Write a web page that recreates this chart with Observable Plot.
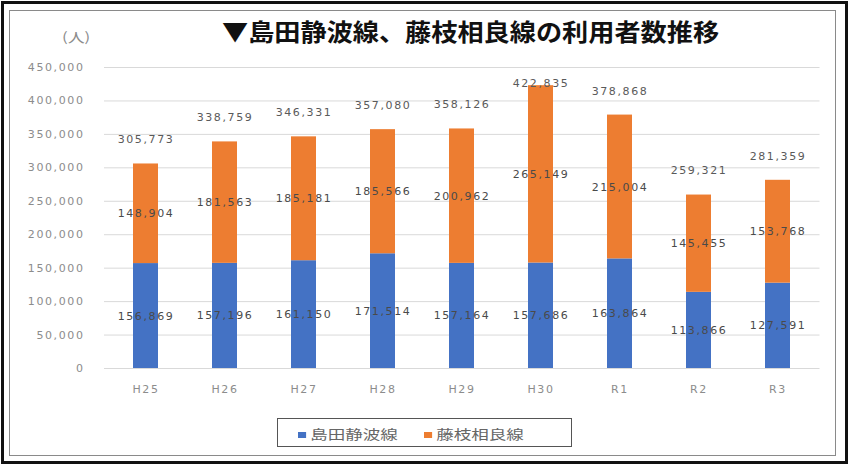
<!DOCTYPE html>
<html>
<head>
<meta charset="utf-8">
<script src="https://cdn.jsdelivr.net/npm/d3@7"></script>
<script src="https://cdn.jsdelivr.net/npm/@observablehq/plot@0.6"></script>
<style>
  body { margin: 0; background: #fff; }
  #page { position: relative; width: 848px; height: 464px; overflow: hidden; background: #fff; font-family: "Noto Sans CJK JP", sans-serif; }
  #outer { position: absolute; left: 1px; top: 1px; width: 841px; height: 457px; border: 3px solid #111; }
  #inner { position: absolute; left: 9px; top: 10px; width: 825px; height: 444px; border: 1.5px solid #8a8a8a; }
  #title { position: absolute; left: 222px; top: 13px; font-size: 24px; font-weight: 700; color: #111; white-space: nowrap; transform: scaleX(1.09); transform-origin: left top; }
  #unit { position: absolute; left: 62px; top: 27px; font-size: 13px; color: #8c8c8c; transform: scaleX(1.3); transform-origin: left top; }
  #chart { position: absolute; left: 0; top: 0; }
  #chart svg text { letter-spacing: 1.6px; }
  #legend { position: absolute; left: 277px; top: 418px; width: 295px; height: 29px; border: 1.5px solid #555; box-sizing: border-box; }
  .item { position: absolute; top: 5px; font-size: 13px; color: #666; white-space: nowrap; transform: scaleX(1.35); transform-origin: left top; }
  .sw { display: inline-block; width: 6px; height: 6px; margin-right: 3px; vertical-align: middle; }
</style>
</head>
<body>
<div id="page">
  <div id="outer"></div>
  <div id="inner"></div>
  <div id="chart"></div>
  <div id="title">▼島田静波線、藤枝相良線の利用者数推移</div>
  <div id="unit">(人)</div>
  <div id="legend"></div>
</div>
<script>
// ---- data ----
const years = ["H25", "H26", "H27", "H28", "H29", "H30", "R1", "R2", "R3"];
const seriesNames = ["島田静波線", "藤枝相良線"];
const shimada = [156869, 157196, 161150, 171514, 157164, 157686, 163864, 113866, 127591];
const fujieda = [148904, 181563, 185181, 185566, 200962, 265149, 215004, 145455, 153768];
const yTicks = [0, 50000, 100000, 150000, 200000, 250000, 300000, 350000, 400000, 450000];
const colors = ["#4472C4", "#ED7D31"];

// ---- derived tables ----
const rows = [];
years.forEach((y, i) => {
  rows.push({year: y, series: seriesNames[0], value: shimada[i]});
  rows.push({year: y, series: seriesNames[1], value: fujieda[i]});
});
const totals = years.map((y, i) => ({year: y, total: shimada[i] + fujieda[i]}));
const fmt = d3.format(",");

const chart = Plot.plot({
  width: 848,
  height: 464,
  marginLeft: 104,
  marginRight: 28.5,
  marginTop: 67,
  marginBottom: 96,
  style: {fontFamily: "DejaVu Sans", fontSize: "11px", color: "#6a6a6a", background: "transparent"},
  x: {domain: years, paddingInner: 0.685, paddingOuter: 0.3425, label: null, axis: null},
  y: {domain: [0, 450000], label: null, axis: null},
  color: {domain: seriesNames, range: colors},
  marks: [
    Plot.ruleY(yTicks, {stroke: "#d9d9d9", strokeWidth: 1}),
    Plot.axisY(yTicks, {tickSize: 0, tickPadding: 20, tickFormat: fmt, fill: "#8c8c8c", fontSize: 11, label: null}),
    Plot.axisX({tickSize: 0, tickPadding: 17, fill: "#8c8c8c", fontSize: 11, label: null}),
    Plot.barY(rows, Plot.stackY({x: "year", y: "value", fill: "series", order: null})),
    Plot.text(rows, Plot.stackY({x: "year", y: "value", z: "series", text: d => fmt(d.value), fill: "#4a4a4a", fontSize: 11})),
    Plot.text(totals, {x: "year", y: d => Math.min(d.total + 36000, 426000), text: d => fmt(d.total), fill: "#5a5a5a", fontSize: 11})
  ]
});
document.getElementById("chart").appendChild(chart);

// ---- legend ----
const legend = document.getElementById("legend");
const lx = [20, 146];
seriesNames.forEach((name, i) => {
  const it = document.createElement("div");
  it.className = "item";
  it.style.left = lx[i] + "px";
  it.innerHTML = `<span class="sw" style="background:${colors[i]}"></span>${name}`;
  legend.appendChild(it);
});
</script>
</body>
</html>
